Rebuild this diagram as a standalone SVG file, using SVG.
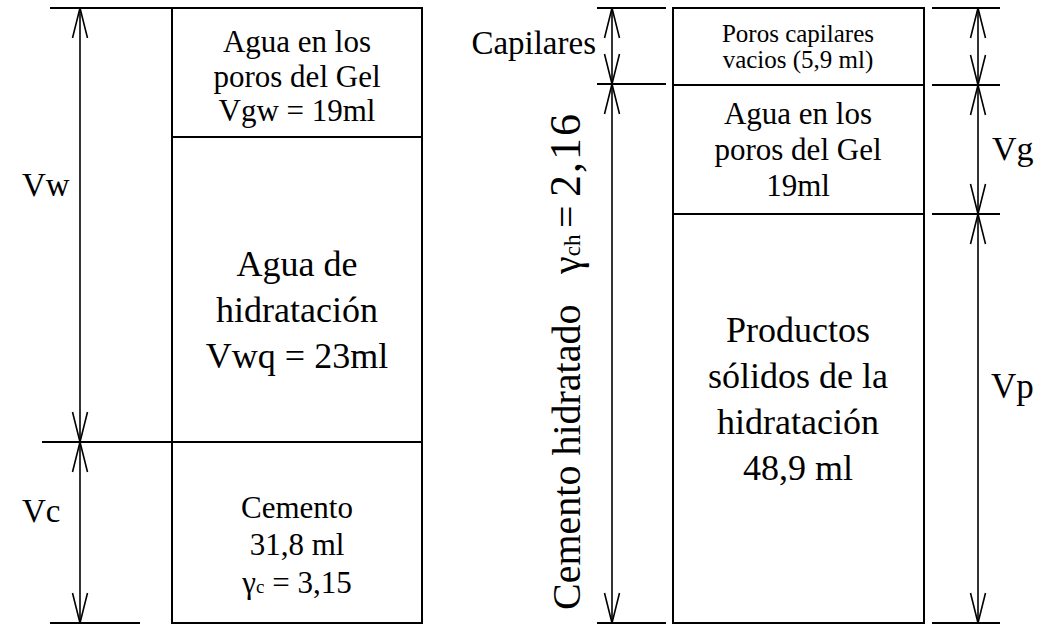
<svg xmlns="http://www.w3.org/2000/svg" width="1045" height="624" viewBox="0 0 1045 624">
<style>
.box{fill:none;stroke:#000;stroke-width:2}
.ln{stroke:#000;stroke-width:2;fill:none}
.dim{stroke:#000;stroke-width:1.6;fill:none}
.t{font-family:"Liberation Serif","Times New Roman",serif;fill:#000;text-anchor:middle}
.s25{font-size:25px}
.s31{font-size:31px}
.s36{font-size:36px}
.lbl{font-family:"Liberation Serif","Times New Roman",serif;fill:#000}
</style>
<defs>
<marker id="ah" viewBox="-32 0 32 18" refX="0" refY="9" markerWidth="32" markerHeight="18" markerUnits="userSpaceOnUse" orient="auto-start-reverse">
<path d="M-30,1.5 L0,9 L-30,16.5" fill="none" stroke="#000" stroke-width="1.6"/>
</marker>
</defs>
<rect width="1045" height="624" fill="#fff"/>

<g id="left-column">
<g id="node-agua-gel">
<rect class="box" x="172" y="8" width="250" height="129"/>
<text class="t s31" x="297" y="52">Agua en los</text>
<text class="t s31" x="297" y="87">poros del Gel</text>
<text class="t s31" x="297" y="121">Vgw = 19ml</text>
</g>
<g id="node-agua-hidratacion">
<rect class="box" x="172" y="137" width="250" height="305"/>
<text class="t s36" x="297" y="276">Agua de</text>
<text class="t s36" x="297" y="322">hidratación</text>
<text class="t s36" x="297" y="368">Vwq = 23ml</text>
</g>
<g id="node-cemento">
<rect class="box" x="172" y="442" width="250" height="181"/>
<text class="t s31" x="297" y="518">Cemento</text>
<text class="t s31" x="297" y="555">31,8 ml</text>
<text class="t s31" x="297" y="593">γ<tspan font-size="19">c</tspan> = 3,15</text>
</g>
</g>

<g id="right-column">
<g id="node-poros-capilares">
<rect class="box" x="673" y="8" width="251" height="77"/>
<text class="t s25" x="798" y="42">Poros capilares</text>
<text class="t s25" x="798" y="68">vacios (5,9 ml)</text>
</g>
<g id="node-agua-gel-2">
<rect class="box" x="673" y="85" width="251" height="129"/>
<text class="t s31" x="798" y="124">Agua en los</text>
<text class="t s31" x="798" y="160">poros del Gel</text>
<text class="t s31" x="798" y="196">19ml</text>
</g>
<g id="node-productos">
<rect class="box" x="673" y="214" width="251" height="409"/>
<text class="t s36" x="798" y="342">Productos</text>
<text class="t s36" x="798" y="388">sólidos de la</text>
<text class="t s36" x="798" y="434">hidratación</text>
<text class="t s36" x="798" y="480">48,9 ml</text>
</g>
</g>

<g id="connectors">
<line class="ln" x1="50" y1="8" x2="172" y2="8"/>
<line class="ln" x1="42" y1="442" x2="172" y2="442"/>
<line class="ln" x1="50" y1="623" x2="140" y2="623"/>
<line class="dim" x1="80" y1="8" x2="80" y2="442" marker-start="url(#ah)" marker-end="url(#ah)"/>
<line class="dim" x1="80" y1="442" x2="80" y2="623" marker-start="url(#ah)" marker-end="url(#ah)"/>

<line class="ln" x1="597" y1="8" x2="666" y2="8"/>
<line class="ln" x1="597" y1="84" x2="666" y2="84"/>
<line class="ln" x1="597" y1="623" x2="666" y2="623"/>
<line class="dim" x1="612" y1="8" x2="612" y2="84" marker-start="url(#ah)" marker-end="url(#ah)"/>
<line class="dim" x1="612" y1="84" x2="612" y2="623" marker-start="url(#ah)" marker-end="url(#ah)"/>

<line class="ln" x1="932" y1="8" x2="1000" y2="8"/>
<line class="ln" x1="932" y1="85" x2="1000" y2="85"/>
<line class="ln" x1="932" y1="214" x2="1000" y2="214"/>
<line class="ln" x1="932" y1="623" x2="1000" y2="623"/>
<line class="dim" x1="978" y1="8" x2="978" y2="85" marker-start="url(#ah)" marker-end="url(#ah)"/>
<line class="dim" x1="978" y1="85" x2="978" y2="214" marker-start="url(#ah)" marker-end="url(#ah)"/>
<line class="dim" x1="978" y1="214" x2="978" y2="623" marker-start="url(#ah)" marker-end="url(#ah)"/>
</g>

<g id="labels">
<text class="lbl" x="22" y="196" font-size="33">Vw</text>
<text class="lbl" x="22" y="522" font-size="33">Vc</text>
<text class="lbl" x="596" y="54" text-anchor="end" font-size="33">Capilares</text>
<text class="lbl" x="992" y="160" font-size="34">Vg</text>
<text class="lbl" x="991" y="398" font-size="35">Vp</text>
<text class="lbl" font-size="40" transform="translate(580,610) rotate(-90)"><tspan x="0">Cemento hidratado</tspan><tspan x="336">γ</tspan><tspan font-size="23">ch</tspan><tspan x="382">=</tspan><tspan x="413" font-size="44" letter-spacing="2">2,16</tspan></text>
</g>
</svg>
